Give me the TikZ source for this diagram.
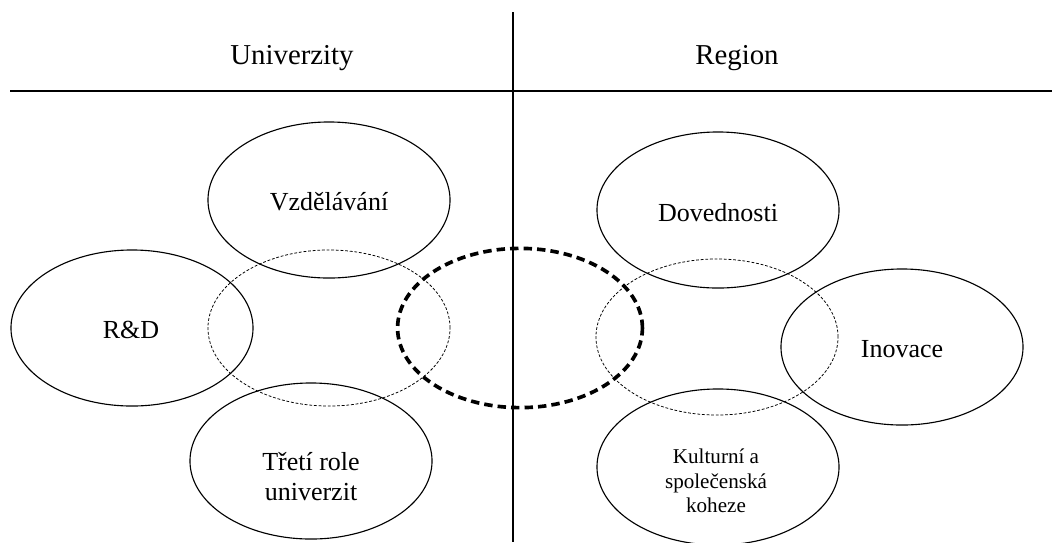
\documentclass[tikz,border=0pt]{standalone}
\usepackage{fontspec}
\setmainfont{Liberation Serif}
\usetikzlibrary{shapes.geometric}

\tikzset{
  oval/.style={draw, ellipse, minimum width=6.05cm, minimum height=3.9cm, inner sep=0pt, line width=0.8pt},
  thinoval/.style={oval, line width=0.55pt, dash pattern=on 2pt off 1.3pt},
  boldoval/.style={oval, minimum width=6.12cm, minimum height=3.98cm, line width=2.6pt, dash pattern=on 6pt off 3.6pt},
  head/.style={font=\fontsize{20.5}{24}\selectfont, inner sep=0pt, anchor=base},
  lbl/.style={font=\fontsize{18.5}{21.3}\selectfont, align=center, inner sep=0pt},
  smalllbl/.style={font=\fontsize{15}{17.4}\selectfont, align=center, inner sep=0pt}
}

\begin{document}
\begin{tikzpicture}[x=0.025cm, y=-0.025cm]
\useasboundingbox (0,0) rectangle (1052,542);

% Columns
\draw[line width=1pt] (513,12) -- (513,542);
\draw[line width=1.4pt] (10,91) -- (1052,91);
\node[head] (uni) at (292,64) {Univerzity};
\node[head] (reg) at (737,64) {Region};

% Universities
\node[oval] (vzd) at (329,200) {};
\node[oval] (rd) at (132,328) {};
\node[oval] (tr) at (311,461) {};
\node[thinoval] (dl) at (329,328) {};
\node[lbl, anchor=base] (vzdt) at (329,210) {Vzdělávání};
\node[lbl, anchor=base] (rdt) at (131,338) {R\&D};
\node[lbl] (trt) at (311,477) {Třetí role\\univerzit};

% Region
\node[oval] (dov) at (718,210) {};
\node[oval] (ino) at (902,347) {};
\node[oval] (kul) at (718,467) {};
\node[thinoval] (dr) at (717,337) {};
\node[lbl, anchor=base] (dovt) at (718,221) {Dovednosti};
\node[lbl, anchor=base] (inot) at (902,357) {Inovace};
\node[smalllbl] (kult) at (716,481) {Kulturní a\\společenská\\koheze};

% Overlap
\node[boldoval] (mid) at (520,328) {};

\end{tikzpicture}
\end{document}
